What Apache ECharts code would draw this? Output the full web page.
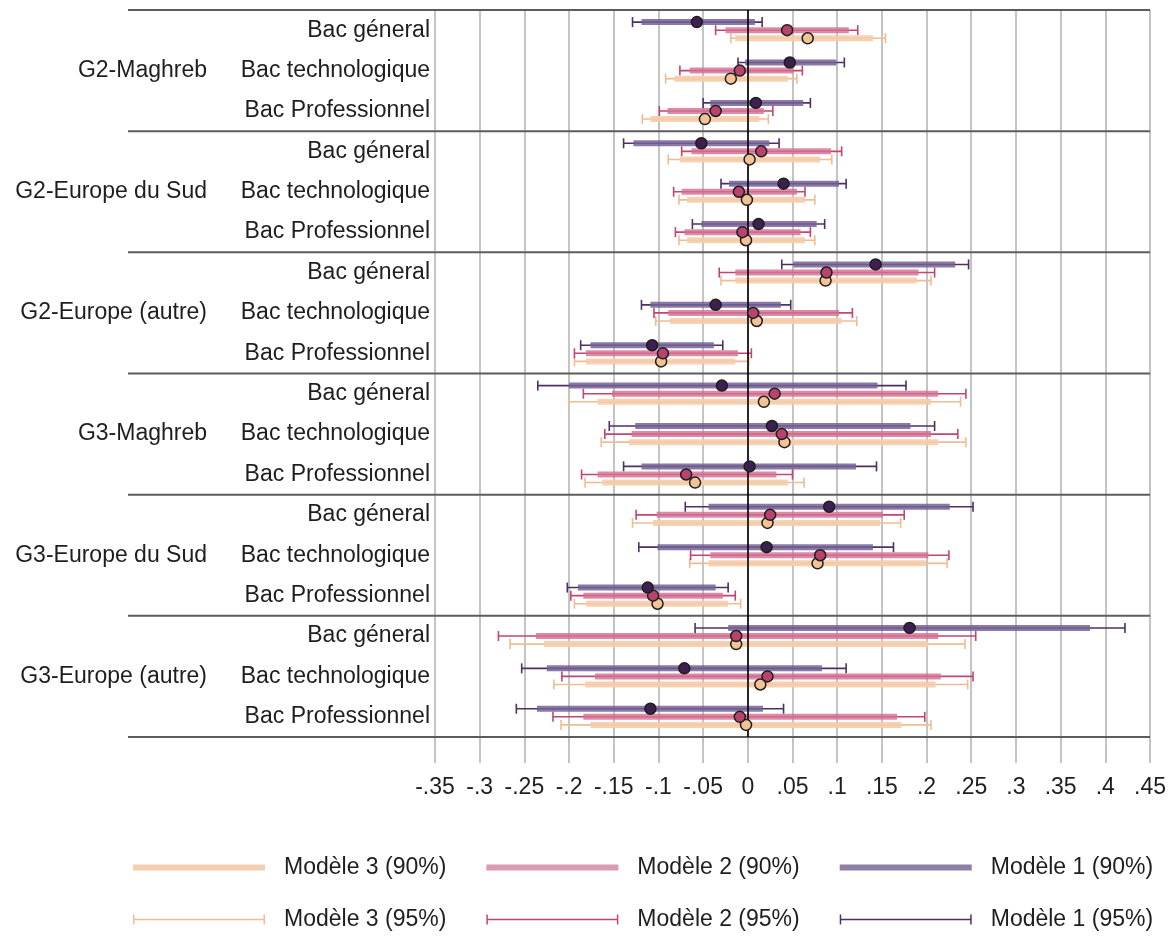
<!DOCTYPE html>
<html lang="fr">
<head>
    <meta charset="UTF-8">
    <title>Coefficients par modèle</title>
    <style>
        body{ margin: 0; background: #fff; }
        #main{ width: 1173px; height: 938px; }
    </style>
</head>
<body>
<div id="main"></div>
<script src="https://cdn.jsdelivr.net/npm/echarts@6/dist/echarts.min.js"></script>
<script>
    // groupes et types de bac (lignes du graphique, de haut en bas)
    const groups = ['G2-Maghreb', 'G2-Europe du Sud', 'G2-Europe (autre)', 'G3-Maghreb', 'G3-Europe du Sud', 'G3-Europe (autre)'];
    const bacs = ['Bac géneral', 'Bac technologique', 'Bac Professionnel'];

    // axe x
    const xMin = -0.35, xMax = 0.45, xStep = 0.05;

    // Modèle 1 : estimation, IC 90%, IC 95%
    const m1Est  = [-0.057, 0.047, 0.009, -0.052, 0.040, 0.012, 0.143, -0.036, -0.107, -0.029, 0.027, 0.002, 0.091, 0.021, -0.112, 0.181, -0.071, -0.109];
    const m1Lo90 = [-0.119, -0.003, -0.042, -0.128, -0.021, -0.052, 0.051, -0.109, -0.176, -0.200, -0.126, -0.119, -0.044, -0.101, -0.190, -0.022, -0.225, -0.236];
    const m1Hi90 = [0.008, 0.099, 0.062, 0.024, 0.102, 0.077, 0.232, 0.037, -0.038, 0.145, 0.182, 0.121, 0.226, 0.140, -0.036, 0.383, 0.083, 0.017];
    const m1Lo95 = [-0.129, -0.011, -0.050, -0.139, -0.030, -0.062, 0.038, -0.119, -0.187, -0.235, -0.155, -0.139, -0.070, -0.122, -0.202, -0.059, -0.253, -0.259];
    const m1Hi95 = [0.016, 0.108, 0.070, 0.035, 0.110, 0.086, 0.247, 0.048, -0.028, 0.177, 0.209, 0.144, 0.252, 0.163, -0.022, 0.422, 0.110, 0.040];

    // Modèle 2
    const m2Est  = [0.044, -0.009, -0.036, 0.015, -0.010, -0.006, 0.088, 0.006, -0.095, 0.030, 0.038, -0.069, 0.025, 0.081, -0.106, -0.013, 0.022, -0.009];
    const m2Lo90 = [-0.025, -0.065, -0.090, -0.063, -0.074, -0.071, -0.014, -0.089, -0.181, -0.152, -0.130, -0.168, -0.102, -0.042, -0.184, -0.237, -0.171, -0.184];
    const m2Hi90 = [0.113, 0.051, 0.018, 0.093, 0.055, 0.059, 0.191, 0.102, -0.011, 0.213, 0.205, 0.032, 0.151, 0.202, -0.028, 0.213, 0.216, 0.167];
    const m2Lo95 = [-0.036, -0.076, -0.099, -0.074, -0.083, -0.081, -0.032, -0.105, -0.194, -0.184, -0.160, -0.186, -0.125, -0.064, -0.198, -0.279, -0.208, -0.218];
    const m2Hi95 = [0.123, 0.061, 0.028, 0.105, 0.064, 0.070, 0.209, 0.117, 0.004, 0.244, 0.235, 0.050, 0.175, 0.225, -0.014, 0.255, 0.252, 0.198];

    // Modèle 3
    const m3Est  = [0.067, -0.019, -0.048, 0.002, -0.001, -0.002, 0.087, 0.010, -0.097, 0.018, 0.041, -0.059, 0.022, 0.078, -0.101, -0.013, 0.014, -0.002];
    const m3Lo90 = [-0.014, -0.082, -0.109, -0.076, -0.068, -0.068, -0.014, -0.087, -0.181, -0.168, -0.133, -0.163, -0.106, -0.044, -0.181, -0.228, -0.182, -0.176];
    const m3Hi90 = [0.140, 0.045, 0.013, 0.081, 0.064, 0.064, 0.189, 0.105, -0.014, 0.205, 0.213, 0.045, 0.148, 0.199, -0.022, 0.202, 0.210, 0.172];
    const m3Lo95 = [-0.019, -0.092, -0.118, -0.089, -0.077, -0.077, -0.030, -0.103, -0.194, -0.200, -0.164, -0.182, -0.129, -0.065, -0.194, -0.266, -0.217, -0.209];
    const m3Hi95 = [0.154, 0.055, 0.023, 0.094, 0.075, 0.075, 0.205, 0.122, 0.001, 0.238, 0.244, 0.063, 0.171, 0.223, -0.008, 0.243, 0.246, 0.205];

    const models = [
        {name: 'Modèle 1', est: m1Est, lo90: m1Lo90, hi90: m1Hi90, lo95: m1Lo95, hi95: m1Hi95, off: -0.2,
            dot: '#3d1f50', thin: '#4e3062', thick: 'rgba(118,98,150,0.85)', legendThick: '#8f7fa6'},
        {name: 'Modèle 2', est: m2Est, lo90: m2Lo90, hi90: m2Hi90, lo95: m2Lo95, hi95: m2Hi95, off: 0,
            dot: '#b8446e', thin: '#c2456f', thick: 'rgba(214,112,146,0.82)', legendThick: '#d99cb0'},
        {name: 'Modèle 3', est: m3Est, lo90: m3Lo90, hi90: m3Hi90, lo95: m3Lo95, hi95: m3Hi95, off: 0.2,
            dot: '#f2c493', thin: '#f0bc92', thick: 'rgba(245,204,170,0.9)', legendThick: '#f4d0b2'}
    ];

    const rows = [];
    groups.forEach(g => bacs.forEach(b => rows.push({group: g, bac: b})));
    const separators = groups.map((g, i) => i * bacs.length - 0.5).concat([rows.length - 0.5]);

    const font = 'Liberation Sans, Arial, sans-serif';
    const capIcon = 'path://M0,0H1.5V4.25H130.5V0H132V10H130.5V5.75H1.5V10H0Z';

    const myChart = echarts.init(document.getElementById('main'));

    // intervalle 95% : trait fin avec butées
    function ci95(color) {
        return function (params, api) {
            const y = api.value(2);
            const a = api.coord([api.value(0), y]);
            const b = api.coord([api.value(1), y]);
            const h = 5;
            const st = {stroke: color, lineWidth: 1.6};
            return {
                type: 'group',
                children: [
                    {type: 'line', shape: {x1: a[0], y1: a[1], x2: b[0], y2: b[1]}, style: st},
                    {type: 'line', shape: {x1: a[0], y1: a[1] - h, x2: a[0], y2: a[1] + h}, style: st},
                    {type: 'line', shape: {x1: b[0], y1: b[1] - h, x2: b[0], y2: b[1] + h}, style: st}
                ]
            };
        };
    }

    // intervalle 90% : barre épaisse
    function ci90(color) {
        return function (params, api) {
            const y = api.value(2);
            const a = api.coord([api.value(0), y]);
            const b = api.coord([api.value(1), y]);
            return {
                type: 'line',
                shape: {x1: a[0], y1: a[1], x2: b[0], y2: b[1]},
                style: {stroke: color, lineWidth: 6}
            };
        };
    }

    const series = [];

    // séparateurs des groupes + ligne du zéro
    series.push({
        type: 'custom',
        name: 'sep',
        yAxisIndex: 1,
        silent: true,
        z: 1,
        data: separators.map(s => [xMax, s]),
        renderItem: function (params, api) {
            const p = api.coord([api.value(0), api.value(1)]);
            return {
                type: 'line',
                shape: {x1: 128, y1: p[1], x2: p[0], y2: p[1]},
                style: {stroke: '#5c5c5c', lineWidth: 2}
            };
        },
        markLine: {
            silent: true,
            symbol: 'none',
            label: {show: false},
            lineStyle: {color: '#000', width: 1.6, type: 'solid'},
            data: [{xAxis: 0}]
        }
    });

    models.slice().reverse().forEach(m => {
        series.push({
            type: 'custom',
            name: m.name + ' (95%)',
            yAxisIndex: 1,
            z: 3,
            itemStyle: {color: m.thin},
            encode: {x: [0, 1], y: 2},
            data: rows.map((r, i) => [m.lo95[i], m.hi95[i], i + m.off]),
            renderItem: ci95(m.thin)
        });
    });
    models.slice().reverse().forEach(m => {
        series.push({
            type: 'custom',
            name: m.name + ' (90%)',
            yAxisIndex: 1,
            z: 4,
            itemStyle: {color: m.legendThick},
            encode: {x: [0, 1], y: 2},
            data: rows.map((r, i) => [m.lo90[i], m.hi90[i], i + m.off]),
            renderItem: ci90(m.thick)
        });
    });
    models.slice().reverse().forEach(m => {
        series.push({
            type: 'scatter',
            name: m.name,
            yAxisIndex: 1,
            z: 6,
            symbolSize: 11,
            itemStyle: {color: m.dot, borderColor: '#1e1e1e', borderWidth: 1.5, opacity: 1},
            data: rows.map((r, i) => [m.est[i], i + m.off])
        });
    });

    const option = {
        animation: false,
        textStyle: {fontFamily: font},
        grid: {left: 435, right: 23, top: 10, bottom: 201},
        xAxis: {
            type: 'value',
            min: xMin,
            max: xMax,
            interval: xStep,
            axisLine: {show: true, onZero: false, lineStyle: {color: 'rgba(0,0,0,0)', width: 0}},
            axisTick: {show: true, inside: false, length: 26, lineStyle: {color: '#c4c4c4', width: 2}},
            splitLine: {show: true, lineStyle: {color: '#c4c4c4', width: 2}},
            axisLabel: {
                margin: 39,
                fontSize: 23,
                color: '#1e1e1e',
                fontFamily: font,
                showMinLabel: true,
                showMaxLabel: true,
                hideOverlap: false,
                formatter: function (v) {
                    const s = String(+v.toFixed(2));
                    return s.replace('0.', '.');
                }
            }
        },
        yAxis: [
            {
                type: 'category',
                inverse: true,
                data: rows.map(r => r.bac),
                axisLine: {show: false},
                axisTick: {show: false},
                splitLine: {show: false},
                axisLabel: {
                    interval: 0,
                    margin: 5,
                    color: '#1e1e1e',
                    fontSize: 23,
                    fontFamily: font,
                    formatter: function (val, idx) {
                        if (idx % bacs.length === 1) {
                            return '{g|' + rows[idx].group + '}{b|' + val + '}';
                        }
                        return '{b|' + val + '}';
                    },
                    rich: {
                        g: {width: 200, align: 'right', fontSize: 23, color: '#1e1e1e', fontFamily: font},
                        b: {width: 223, align: 'right', fontSize: 23, color: '#1e1e1e', fontFamily: font}
                    }
                }
            },
            {
                type: 'value',
                inverse: true,
                min: -0.5,
                max: rows.length - 0.5,
                show: false,
                splitLine: {show: false}
            }
        ],
        legend: [
            {
                left: 133,
                top: 856,
                padding: 0,
                selectedMode: false,
                itemWidth: 132,
                itemHeight: 6,
                itemGap: 40,
                textStyle: {fontSize: 23, color: '#1e1e1e', fontFamily: font, padding: [0, 0, 0, 14]},
                data: models.slice().reverse().map(m => ({name: m.name + ' (90%)', icon: 'rect'}))
            },
            {
                left: 133,
                top: 908,
                padding: 0,
                selectedMode: false,
                itemWidth: 132,
                itemHeight: 10,
                itemGap: 40,
                symbolKeepAspect: false,
                textStyle: {fontSize: 23, color: '#1e1e1e', fontFamily: font, padding: [0, 0, 0, 14]},
                data: models.slice().reverse().map(m => ({name: m.name + ' (95%)', icon: capIcon}))
            }
        ],
        series: series
    };

    myChart.setOption(option);
</script>
</body>
</html>
